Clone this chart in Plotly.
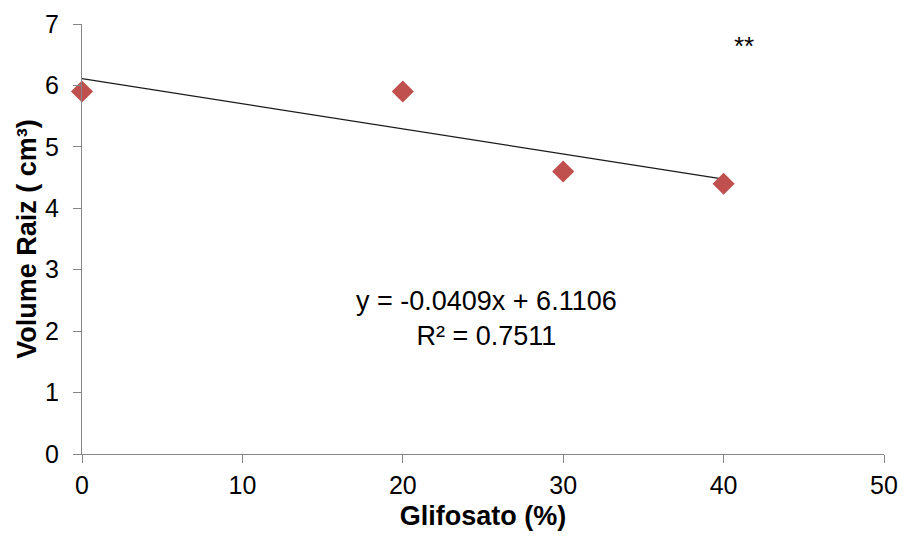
import plotly.graph_objects as go

# Data
glifosato = [0, 20, 30, 40]
volume_raiz = [5.9, 5.9, 4.6, 4.4]

# Trendline coefficients from the chart's equation label
slope = -0.0409
intercept = 6.1106
r2 = 0.7511
trend_x = [min(glifosato), max(glifosato)]
trend_y = [slope * x + intercept for x in trend_x]

x_ticks = [0, 10, 20, 30, 40, 50]
y_ticks = [0, 1, 2, 3, 4, 5, 6, 7]

FONT = "Liberation Sans, Arial, sans-serif"

fig = go.Figure()
fig.add_trace(go.Scatter(
    x=trend_x, y=trend_y, mode="lines",
    line=dict(color="#1a1a1a", width=1.3),
    showlegend=False, hoverinfo="skip", cliponaxis=False,
))
fig.add_trace(go.Scatter(
    x=glifosato, y=volume_raiz, mode="markers",
    marker=dict(symbol="diamond", size=17, color="#C0504D", line=dict(width=0)),
    showlegend=False, cliponaxis=False,
))

fig.add_annotation(
    x=25.2, y=2.21, xref="x", yref="y",
    text=f"y = {slope}x + {intercept}<br>R² = {r2}",
    showarrow=False, align="center",
    font=dict(family=FONT, size=27, color="#000000"),
)
fig.add_annotation(
    x=41.3, y=6.64, xref="x", yref="y",
    text="**", showarrow=False,
    font=dict(family=FONT, size=26, color="#000000"),
)

axis_common = dict(
    showgrid=False, zeroline=False, showline=True,
    linecolor="#868686", linewidth=1.2,
    ticks="outside", ticklen=8, tickcolor="#868686", tickwidth=1.2,
    tickfont=dict(family=FONT, size=25, color="#000000"),
    automargin=False,
)

fig.update_layout(
    width=892, height=523,
    margin=dict(l=74, r=16, t=16, b=77),
    paper_bgcolor="white", plot_bgcolor="white",
    xaxis=dict(
        range=[0, 50], tickvals=x_ticks, ticklabelstandoff=1,
        title=dict(text="<b>Glifosato (%)</b>", standoff=13,
                   font=dict(family=FONT, size=27, color="#000000")),
        **axis_common,
    ),
    yaxis=dict(
        range=[0, 7], tickvals=y_ticks, ticklabelstandoff=9,
        title=dict(text="<b>Volume Raiz ( cm³)</b>", standoff=0,
                   font=dict(family=FONT, size=27, color="#000000")),
        **axis_common,
    ),
)

fig.write_html("out.html")
